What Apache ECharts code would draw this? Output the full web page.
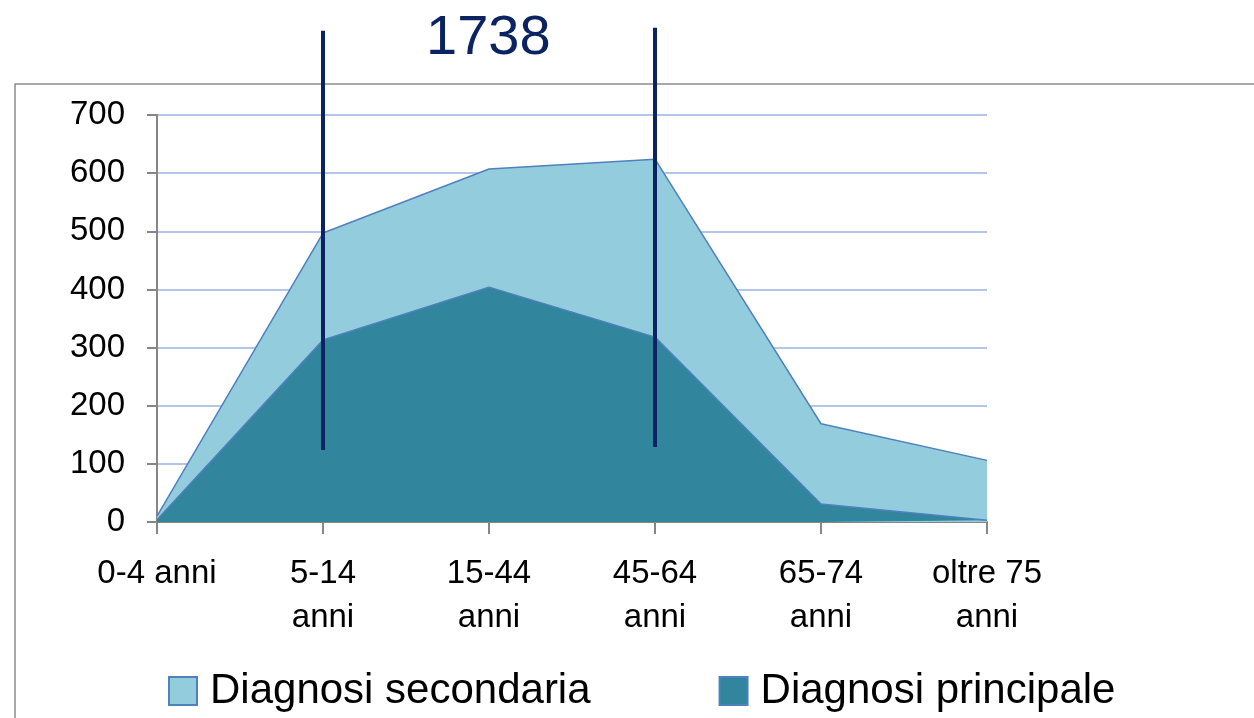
<!DOCTYPE html>
<html>
<head>
<meta charset="utf-8">
<script src="https://cdn.jsdelivr.net/npm/echarts@6/dist/echarts.min.js"></script>
<style>
  html, body { margin: 0; padding: 0; background: #fff; }
  #chart { width: 1254px; height: 718px; }
</style>
</head>
<body>
<div id="chart"></div>
<script>
const categories = ['0-4 anni', '5-14\nanni', '15-44\nanni', '45-64\nanni', '65-74\nanni', 'oltre 75\nanni']
const secondaria = [10, 497, 607, 624, 169, 106]
const principale = [4, 313, 404, 318, 31, 3]
const totalLabel = '1738'
// the two dark marker lines (category, top value, bottom value)
const markerCats = ['5-14\nanni', '45-64\nanni']
const markerTop = [845, 850]
const markerBottom = [124, 129]

const font = 'Liberation Sans, Arial, sans-serif'
const myChart = echarts.init(document.getElementById('chart'))

const markerSeries = markerCats.map((c, i) => ({
  type: 'line',
  name: 'marker' + i,
  data: [[c, markerTop[i]], [c, markerBottom[i]]],
  clip: false,
  silent: true,
  symbol: 'none',
  z: 5,
  lineStyle: { color: '#0b2461', width: 4 }
}))

const option = {
  animation: false,
  title: {
    text: totalLabel,
    left: 421,
    top: 6,
    textStyle: { fontFamily: font, fontSize: 56, fontWeight: 'normal', color: '#0b2461' }
  },
  graphic: [
    {
      type: 'rect',
      shape: { x: 15, y: 84, width: 1400, height: 800 },
      style: { fill: 'none', stroke: '#8c8c8c', lineWidth: 1.5 },
      silent: true
    }
  ],
  legend: {
    data: ['Diagnosi secondaria', 'Diagnosi principale'],
    left: 163,
    top: 665,
    icon: 'rect',
    itemWidth: 28,
    itemHeight: 28,
    itemGap: 128,
    textStyle: { fontFamily: font, fontSize: 42, color: '#000', padding: [0, 0, 0, 8] }
  },
  grid: { left: 157, right: 267, top: 115, bottom: 196 },
  xAxis: {
    type: 'category',
    data: categories,
    boundaryGap: false,
    axisLine: { lineStyle: { color: '#868686', width: 2 } },
    axisTick: { show: true, length: 12, lineStyle: { color: '#868686', width: 2 } },
    axisLabel: { fontFamily: font, fontSize: 33, color: '#000', lineHeight: 44, margin: 30, interval: 0 }
  },
  yAxis: {
    type: 'value',
    min: 0,
    max: 700,
    interval: 100,
    axisLine: { show: true, lineStyle: { color: '#868686', width: 2 } },
    axisTick: { show: true, length: 10, lineStyle: { color: '#868686', width: 2 } },
    axisLabel: { fontFamily: font, fontSize: 33, color: '#000', margin: 32 },
    splitLine: { lineStyle: { color: '#b4c6e7', width: 2 } }
  },
  series: [
    {
      name: 'Diagnosi secondaria',
      type: 'line',
      data: secondaria,
      symbol: 'none',
      lineStyle: { color: '#4f81bd', width: 1.5 },
      itemStyle: { color: '#93cddd', borderColor: '#4f81bd', borderWidth: 2 },
      areaStyle: { color: '#93cddd', opacity: 1 },
      z: 2
    },
    {
      name: 'Diagnosi principale',
      type: 'line',
      data: principale,
      symbol: 'none',
      lineStyle: { color: '#4f81bd', width: 1.5 },
      itemStyle: { color: '#31859c', borderColor: '#4f81bd', borderWidth: 2 },
      areaStyle: { color: '#31859c', opacity: 1 },
      z: 3
    },
    ...markerSeries
  ]
}

option && myChart.setOption(option)

window.addEventListener('resize', function () {
  myChart.resize()
})
</script>
</body>
</html>
